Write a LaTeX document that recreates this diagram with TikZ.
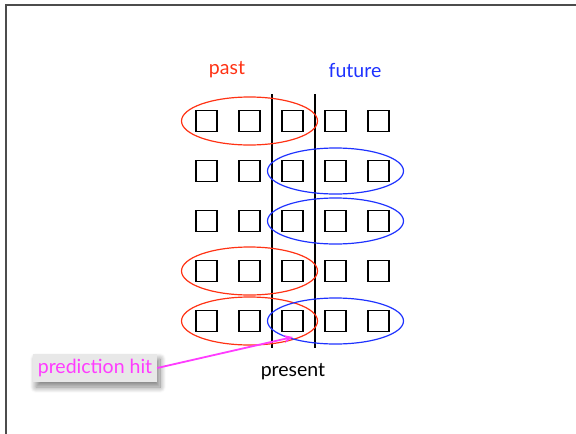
\documentclass[tikz,border=0pt]{standalone}
\usepackage{fontspec}
\setmainfont{Lato}
\usetikzlibrary{arrows.meta,shadows.blur}
\definecolor{pastred}{RGB}{255,50,20}
\definecolor{futblue}{RGB}{30,50,255}
\definecolor{hitpink}{RGB}{255,60,255}
\tikzset{cell/.style={draw=black, line width=1.5pt, minimum size=21pt, inner sep=0pt}}
\tikzset{lbl/.style={font=\fontsize{19.5}{22}\selectfont}}

\begin{document}
\begin{tikzpicture}[x=1pt, y=-1pt]
\useasboundingbox (0,0) rectangle (576,434);
% frame
\draw[black!70, line width=1.2pt] (6,434) -- (6,5) -- (576,5);

% grid of cells
\foreach \r [evaluate=\r as \yy using 71+50*\r] in {1,...,5} {
 \foreach \c [evaluate=\c as \xx using 163.5+43*\c] in {1,...,5} {
  \node[cell] (sq-\r-\c) at (\xx,\yy) {};
 }
}

% past / present / future
\draw[black, line width=2pt] (272,94) -- (272,348);
\draw[black, line width=2pt] (314.5,94) -- (314.5,348);
\node[lbl, text=pastred] (past) at (227,70) {past};
\node[lbl, text=futblue] (future) at (355,70) {future};
\node[lbl] (present) at (293,372) {present};

% windows
\foreach \r in {1,4,5}
 \draw[pastred, line width=1.2pt] (sq-\r-2) ellipse [x radius=68, y radius=24];
\foreach \r in {2,3,5}
 \draw[futblue, line width=1.2pt] (sq-\r-4) ellipse [x radius=68, y radius=23];

% hit marker
\node[lbl, text=hitpink, fill=black!9, minimum width=124pt, minimum height=28pt, inner sep=1pt,
 blur shadow={shadow xshift=3pt, shadow yshift=-5pt, shadow blur radius=6pt, shadow blur steps=12, shadow opacity=50}] (hit) at (95,368) {prediction hit};
\coordinate (hitpt) at (293,337);
\draw[hitpink, line width=1.8pt, -{Stealth[length=9pt, width=8pt]}] (hit.east) -- (hitpt);
\end{tikzpicture}
\end{document}
